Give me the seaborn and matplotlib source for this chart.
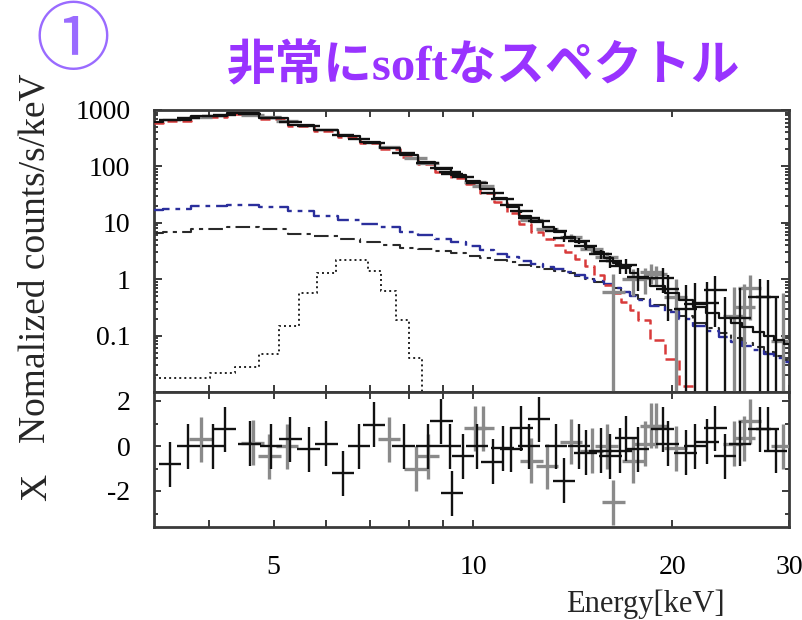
import numpy as np
import pandas as pd
import matplotlib
matplotlib.use("Agg")
import matplotlib.pyplot as plt
import seaborn as sns
from matplotlib.ticker import FixedLocator, FixedFormatter, LogLocator, NullFormatter

# ---- spectral model on the response grid (keV, counts/s/keV) ----
energy = [3.3, 3.5, 4, 4.5, 5, 5.5, 6, 6.5, 7, 7.5, 8, 8.5, 9, 9.5, 10, 10.5, 11,
          11.5, 12, 12.5, 13, 13.5, 14, 14.5, 15, 15.5, 16, 16.5, 17, 17.5, 18,
          19, 20, 21, 22, 23, 24, 25, 26, 27, 28, 29, 30]
disk_bb = [600, 640, 755, 855, 695, 520, 430, 327, 260, 203, 147, 110, 81, 63, 49,
           34, 23, 15, 9.5, 7.0, 5.2, 4.0, 3.0, 2.3, 1.7, 1.2, 0.8, 0.57, 0.4,
           0.28, 0.19, 0.085, 0.038, 0.013, 0.004, 1.1e-3, 3e-4, 8e-5, 2e-5, 5e-6,
           1e-6, 3e-7, 1e-7]
power_law = [17, 17.5, 19.5, 20.5, 18.8, 16, 13, 11, 9.6, 8.5, 7.0, 6.0, 5.2, 4.5,
             3.9, 3.3, 2.85, 2.45, 2.1, 1.85, 1.65, 1.5, 1.35, 1.2, 1.05, 0.93,
             0.82, 0.7, 0.6, 0.51, 0.43, 0.33, 0.26, 0.2, 0.15, 0.12, 0.095, 0.078,
             0.065, 0.056, 0.048, 0.04, 0.034]
compton = [6.6, 7.0, 7.8, 8.4, 7.8, 6.4, 5.8, 5.2, 4.6, 4.0, 3.6, 3.4, 3.2, 2.9,
           2.6, 2.4, 2.2, 2.0, 1.8, 1.65, 1.5, 1.4, 1.28, 1.15, 1.02, 0.9, 0.8,
           0.7, 0.6, 0.52, 0.45, 0.35, 0.28, 0.22, 0.17, 0.135, 0.11, 0.09, 0.075,
           0.062, 0.052, 0.044, 0.037]

# iron line, binned (edges in keV)
fe_edges = [3.3, 4.01, 4.37, 4.76, 5.10, 5.46, 5.81, 6.22, 6.95, 7.26, 7.65, 8.0,
            8.39, 8.8]
fe_flux = [0.018, 0.022, 0.028, 0.047, 0.15, 0.58, 1.3, 2.15, 1.4, 0.63, 0.19,
           0.04, 0.001]

# ---- data sets: bin centre (keV), residual (sigma), count-rate error ----
black_e = [3.49, 3.72, 4.05, 4.22, 4.60, 4.96, 5.30, 5.65, 6.01, 6.37, 6.73, 7.09,
           7.86, 8.54, 8.96, 9.24, 9.30, 9.66, 10.14, 10.71, 11.09, 11.43, 11.83,
           12.16, 12.59, 13.35, 13.72, 14.45, 14.80, 15.58, 16.13, 16.69, 17.03,
           17.75, 19.34, 19.68, 20.94, 21.67, 22.59, 23.22, 24.03, 25.29, 27.09,
           27.86, 28.63]
black_chi = [-0.8, 0.0, 0.0, 0.75, 0.1, 0.0, 0.3, -0.15, 0.1, -1.2, 0.0, 0.95, 0.0,
             0.0, 1.1, 0.0, -2.1, -0.45, 0.0, -0.7, -0.1, -0.15, 0.8, 0.0, 1.2,
             0.0, -1.55, 0.0, -0.3, -0.2, -0.45, -0.2, 0.35, -0.15, 0.75, 0.1,
             -0.3, 0.0, 0.2, 0.8, -0.45, 0.1, 0.75, 0.75, -0.2]
black_sigma = [6, 6, 6, 6, 6, 5, 5, 4, 4, 3.5, 3, 2.5, 2, 1.6, 1.4, 1.3, 1.3, 1.2,
               1.1, 1.0, 0.95, 0.9, 0.85, 0.8, 0.75, 0.7, 0.65, 0.6, 0.6, 0.55,
               0.5, 0.5, 0.5, 0.5, 0.5, 0.5, 0.5, 0.5, 0.5, 0.5, 0.5, 0.5, 0.5,
               0.5, 0.5]

gray_e = [3.88, 4.65, 4.93, 5.24, 7.47, 8.19, 8.54, 10.07, 10.35, 12.25, 12.94,
          14.05, 15.11, 15.91, 16.29, 17.45, 18.18, 18.56, 18.88, 20.23, 24.77,
          25.64, 26.17, 29.33]
gray_chi = [0.3, 0.15, -0.45, 0.0, 0.3, -1.0, -0.45, 0.8, 0.8, -0.65, -0.9, 0.2,
            -0.2, 0.0, -2.5, -0.65, 0.1, 0.9, 0.9, -0.1, 0.1, 0.35, 1.1, 0.0]
gray_sigma = [6, 6, 5, 5, 2.2, 1.8, 1.6, 1.1, 1.05, 0.8, 0.75, 0.65, 0.55, 0.5,
              0.62, 0.5, 0.5, 0.5, 0.5, 0.5, 0.5, 0.5, 0.5, 0.5]

x_ticks = [4, 5, 6, 7, 8, 9, 10, 20, 30]
x_ticklabels = ["", "5", "", "", "", "", "10", "20", "30"]
y_ticks = [0.1, 1, 10, 100, 1000]
y_ticklabels = ["0.1", "1", "10", "100", "1000"]
res_ticks = [-2, 0, 2]
res_ticklabels = ["-2", "0", "2"]

# ---------------------------------------------------------------------------
sns.set_theme(style="ticks")
plt.rcParams["font.family"] = ["Liberation Serif", "DejaVu Serif"]
plt.rcParams["axes.linewidth"] = 2.0
plt.rcParams["axes.edgecolor"] = "#3a3a3a"

W, H = 803, 620
fig = plt.figure(figsize=(W / 100, H / 100), dpi=100)
ax = fig.add_axes([154 / W, 1 - 392 / H, (789 - 154) / W, (392 - 110) / H])
axr = fig.add_axes([154 / W, 1 - 527 / H, (789 - 154) / W, (527 - 392) / H])

model = pd.DataFrame({"energy": energy, "disk": disk_bb, "pl": power_law,
                      "comp": compton})
model["total"] = model["disk"] + model["pl"] + model["comp"]

step = dict(drawstyle="steps-mid", errorbar=None, legend=False)
sns.lineplot(data=model, x="energy", y="comp", ax=ax, color="#2a2a2a", lw=1.5,
             linestyle=(0, (7, 2.5, 2, 2.5)), zorder=2, **step)
sns.lineplot(data=model, x="energy", y="pl", ax=ax, color="#2b2f9c", lw=1.7,
             linestyle=(0, (7, 2.5, 2, 2.5)), zorder=3, **step)
sns.lineplot(data=model, x="energy", y="disk", ax=ax, color="#d83a3a", lw=1.8,
             linestyle=(0, (4, 2)), zorder=3, **step)
sns.lineplot(x=fe_edges, y=fe_flux + [fe_flux[-1]], ax=ax, color="#222222", lw=1.4,
             linestyle=(0, (1, 1.6)), drawstyle="steps-post", errorbar=None,
             legend=False, zorder=2)


def log_interp(x, xp, fp):
    return 10 ** np.interp(np.log10(x), np.log10(xp), np.log10(fp))


half_w = 0.017  # bin half-width in decades


def draw_set(e, chi, sigma, color, lw, z):
    e = np.asarray(e)
    chi = np.asarray(chi)
    sigma = np.asarray(sigma)
    xerr = [e - e / 10 ** half_w, e * 10 ** half_w - e]
    rate = log_interp(e, model["energy"], model["total"]) + chi * sigma
    ax.errorbar(e, rate, yerr=sigma, xerr=xerr, fmt="none", ecolor=color,
                elinewidth=lw, capsize=0, zorder=z)
    axr.errorbar(e, chi, yerr=np.ones_like(chi), xerr=xerr, fmt="none",
                 ecolor=color, elinewidth=lw, capsize=0, zorder=z)


draw_set(gray_e, gray_chi, gray_sigma, "#8a8a8a", 2.4, 3)
draw_set(black_e, black_chi, black_sigma, "#111111", 1.7, 4)

sns.lineplot(data=model, x="energy", y="total", ax=ax, color="#111111", lw=1.6,
             zorder=5, **step)

# ---- axes, scales, ticks ----
for a in (ax, axr):
    a.set_xscale("log")
    a.set_xlim(3.3, 30)
    a.xaxis.set_major_locator(FixedLocator(x_ticks))
    a.xaxis.set_minor_locator(FixedLocator([]))
    a.tick_params(which="both", direction="in", top=True, right=True,
                  width=1.4, colors="#3a3a3a", labelcolor="black")
    a.tick_params(which="major", length=5)
    a.tick_params(which="minor", length=3)
    a.set_xlabel("")
    a.set_ylabel("")

ax.set_yscale("log")
ax.set_ylim(0.01, 1000)
axr.set_ylim(-3.6, 2.4)

ax.xaxis.set_major_formatter(NullFormatter())
ax.tick_params(axis="x", labelbottom=False)
ax.yaxis.set_major_locator(FixedLocator(y_ticks))
ax.yaxis.set_major_formatter(FixedFormatter(y_ticklabels))
ax.yaxis.set_minor_locator(LogLocator(base=10, subs=np.arange(2, 10), numticks=20))
ax.yaxis.set_minor_formatter(NullFormatter())
ax.tick_params(axis="y", which="major", length=6, labelsize=20, pad=17)

axr.xaxis.set_major_formatter(FixedFormatter(x_ticklabels))
axr.yaxis.set_major_locator(FixedLocator(res_ticks))
axr.yaxis.set_major_formatter(FixedFormatter(res_ticklabels))
axr.yaxis.set_minor_locator(FixedLocator([-3, -1, 1]))
axr.tick_params(axis="y", which="major", labelsize=20, pad=17)
axr.tick_params(axis="x", which="major", labelsize=20, pad=20)

# ---- labels ----
fig.text(35 / W, 1 - 258 / H, "Nomalized counts/s/keV", rotation=90,
         ha="center", va="center", fontsize=27)
fig.text(37 / W, 1 - 487 / H, "X", rotation=90, ha="center", va="center",
         fontsize=27)
fig.text(645 / W, 1 - 604 / H, "Energy[keV]", ha="center", va="center",
         fontsize=22)
fig.text(483 / W, 1 - 67 / H, "非常にsoftなスペクトル", ha="center", va="center",
         fontsize=35, color="#9933ff", fontweight="bold",
         family=["Liberation Serif", "Noto Sans CJK JP"])
fig.text(73 / W, 1 - 42 / H, "①", ha="center", va="center", fontsize=54,
         color="#9a6bff", family=["Noto Sans CJK JP", "DejaVu Sans"])

fig.savefig("out.png", dpi=100, facecolor="white")
